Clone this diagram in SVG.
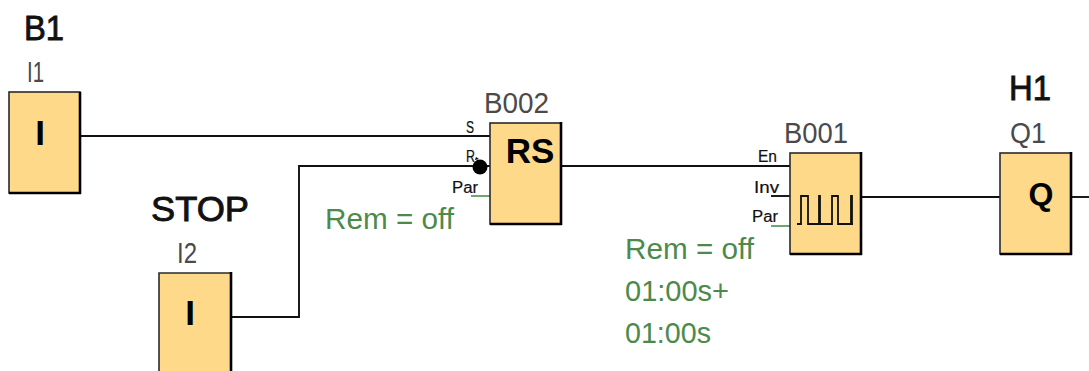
<svg xmlns="http://www.w3.org/2000/svg" width="1089" height="371" viewBox="0 0 1089 371">
<style>
text{font-family:"Liberation Sans",Arial,sans-serif}
.box{fill:#ffd98a;stroke:#2a2a2a;stroke-width:1.6}
.edge{fill:none;stroke:#000;stroke-width:2.6}
.w{fill:none;stroke:#111;stroke-width:1.9}
.g{fill:none;stroke:#3c8a3c;stroke-width:1.5}
.h{font-size:35px;fill:#111;stroke:#111;stroke-width:.9}
.n{font-size:29px;fill:#4a4a4a}
.sym{font-size:35px;font-weight:bold;fill:#000;text-anchor:middle}
.p{font-size:16px;fill:#111;stroke:#111;stroke-width:.2}
.rem{font-size:30px;fill:#4c8a4c}
</style>
<rect width="1089" height="371" fill="#fff"/>
<g id="connectors">
<path class="w" d="M81 136H490"/>
<path class="w" d="M231 317H299V166H490"/>
<path class="w" d="M561 166H790"/>
<path class="w" d="M771 196H790"/>
<path class="w" d="M861 197H1000"/>
<path class="w" d="M1071 197H1089"/>
<path class="g" d="M471 196H490"/>
<path class="g" d="M771 226H790"/>
<circle cx="480" cy="167" r="7.5" fill="#000"/>
<path d="M475 160l1-3 3 2z" fill="#000"/>
</g>
<g id="I1">
<text class="h" x="24" y="40" textLength="40" lengthAdjust="spacingAndGlyphs">B1</text>
<text class="n" x="27" y="82" textLength="17" lengthAdjust="spacingAndGlyphs">I1</text>
<rect class="box" x="9" y="92" width="71" height="101"/>
<path class="edge" d="M80 92V194M9 193H81"/>
<text class="sym" x="40" y="145">I</text>
</g>
<g id="I2">
<text class="h" x="151" y="221" textLength="98" lengthAdjust="spacingAndGlyphs">STOP</text>
<text class="n" x="177" y="263" textLength="20" lengthAdjust="spacingAndGlyphs">I2</text>
<path class="box" d="M159 372V273H231V372"/>
<path class="edge" d="M231 272V372"/>
<text class="sym" x="190" y="325">I</text>
</g>
<g id="B002">
<text class="n" x="484" y="113" textLength="65" lengthAdjust="spacingAndGlyphs">B002</text>
<rect class="box" x="490" y="123" width="71" height="101"/>
<path class="edge" d="M561 122V225M490 224H562"/>
<text class="sym" x="530" y="163">RS</text>
<text class="p" x="466" y="133" textLength="8" lengthAdjust="spacingAndGlyphs">S</text>
<text class="p" x="466" y="162" textLength="9" lengthAdjust="spacingAndGlyphs">R</text>
<text class="p" x="452" y="193" textLength="26" lengthAdjust="spacingAndGlyphs">Par</text>
<text class="rem" x="325" y="229" textLength="129" lengthAdjust="spacingAndGlyphs">Rem = off</text>
</g>
<g id="B001">
<text class="n" x="784" y="143" textLength="64" lengthAdjust="spacingAndGlyphs">B001</text>
<rect class="box" x="790" y="153" width="71" height="101"/>
<path class="edge" d="M861 152V255M790 254H862"/>
<path d="M797 224H801V196H808V224H819V196H820V224H832V196H838V224H851V196H852V224H853" fill="none" stroke="#111" stroke-width="1.8"/>
<text class="p" x="758" y="162" textLength="19" lengthAdjust="spacingAndGlyphs">En</text>
<text class="p" x="754" y="193" textLength="25" lengthAdjust="spacingAndGlyphs">Inv</text>
<text class="p" x="752" y="222" textLength="26" lengthAdjust="spacingAndGlyphs">Par</text>
<text class="rem" x="625" y="259" textLength="129" lengthAdjust="spacingAndGlyphs">Rem = off</text>
<text class="rem" x="625" y="301" textLength="104" lengthAdjust="spacingAndGlyphs">01:00s+</text>
<text class="rem" x="625" y="343" textLength="86" lengthAdjust="spacingAndGlyphs">01:00s</text>
</g>
<g id="Q1">
<text class="h" x="1009" y="100" textLength="42" lengthAdjust="spacingAndGlyphs">H1</text>
<text class="n" x="1010" y="143" textLength="36" lengthAdjust="spacingAndGlyphs">Q1</text>
<rect class="box" x="1000" y="153" width="71" height="101"/>
<path class="edge" d="M1071 152V255M1000 254H1072"/>
<text class="sym" x="1041" y="205" style="font-size:32px">Q</text>
</g>
</svg>
